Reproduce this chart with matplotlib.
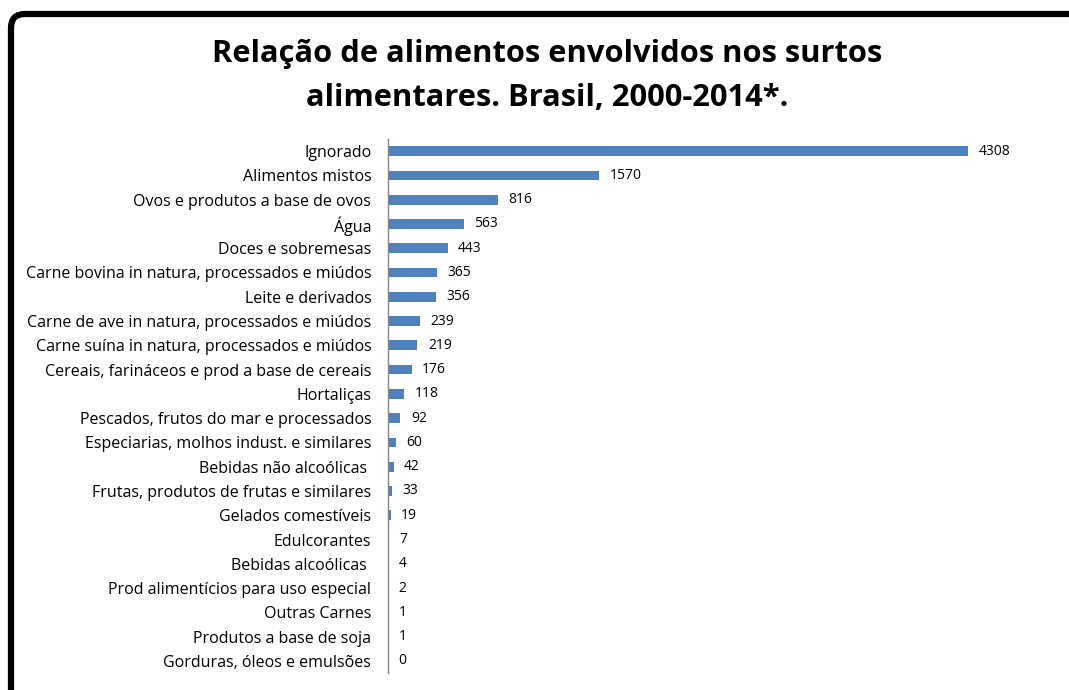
import matplotlib.pyplot as plt
from matplotlib.path import Path
from matplotlib.patches import PathPatch
from matplotlib.transforms import IdentityTransform

# data (top to bottom as in the chart)
categories = [
    "Ignorado",
    "Alimentos mistos",
    "Ovos e produtos a base de ovos",
    "Água",
    "Doces e sobremesas",
    "Carne bovina in natura, processados e miúdos",
    "Leite e derivados",
    "Carne de ave in natura, processados e miúdos",
    "Carne suína in natura, processados e miúdos",
    "Cereais, farináceos e prod a base de cereais",
    "Hortaliças",
    "Pescados, frutos do mar e processados",
    "Especiarias, molhos indust. e similares",
    "Bebidas não alcoólicas ",
    "Frutas, produtos de frutas e similares",
    "Gelados comestíveis",
    "Edulcorantes",
    "Bebidas alcoólicas ",
    "Prod alimentícios para uso especial",
    "Outras Carnes",
    "Produtos a base de soja",
    "Gorduras, óleos e emulsões",
]
values = [4308, 1570, 816, 563, 443, 365, 356, 239, 219, 176, 118,
          92, 60, 42, 33, 19, 7, 4, 2, 1, 1, 0]

title = "Relação de alimentos envolvidos nos surtos\nalimentares. Brasil, 2000-2014*."

W, H = 1069, 690
fig = plt.figure(figsize=(W / 100, H / 100), dpi=100)
plt.rcParams['font.family'] = ['Open Sans', 'DejaVu Sans']

# black frame: top and left edges with a rounded top-left corner (pixels)
r = 14
verts = [(W + 20, 676), (11 + r, 676), (11, 676), (11, 676 - r), (11, -20)]
codes = [Path.MOVETO, Path.LINETO, Path.CURVE3, Path.CURVE3, Path.LINETO]
frame = PathPatch(Path(verts, codes), transform=IdentityTransform(),
                  linewidth=4.5, edgecolor='black', facecolor='none',
                  capstyle='butt', zorder=5)
fig.patches.append(frame)

ax_left, ax_right = 388 / W, 1040 / W
ax_top, ax_bot = 1 - 139 / H, 1 - 673 / H
ax = fig.add_axes([ax_left, ax_bot, ax_right - ax_left, ax_top - ax_bot])
ax.patch.set_alpha(0)

y = list(range(len(categories)))
ax.barh(y, values, height=0.4, color='#4F81BD')
ax.set_ylim(len(categories) - 0.5, -0.5)
xmax = (1040 - 388) / (580 / 4308)
ax.set_xlim(0, xmax)

for yi, v in zip(y, values):
    ax.text(v + xmax * 0.016, yi, str(v), va='center', ha='left', fontsize=10)

ax.set_yticks(y)
ax.set_yticklabels(categories, fontsize=11.5)
ax.tick_params(axis='y', length=0, pad=12)
ax.set_xticks([])
for s in ['top', 'right', 'bottom']:
    ax.spines[s].set_visible(False)
ax.spines['left'].set_color('#868686')
ax.spines['left'].set_linewidth(1)

fig.text(547 / W, 1 - 76 / H, title, ha='center', va='center',
         fontsize=22.2, fontweight='bold', linespacing=1.62)

fig.savefig('out.png', dpi=100)
